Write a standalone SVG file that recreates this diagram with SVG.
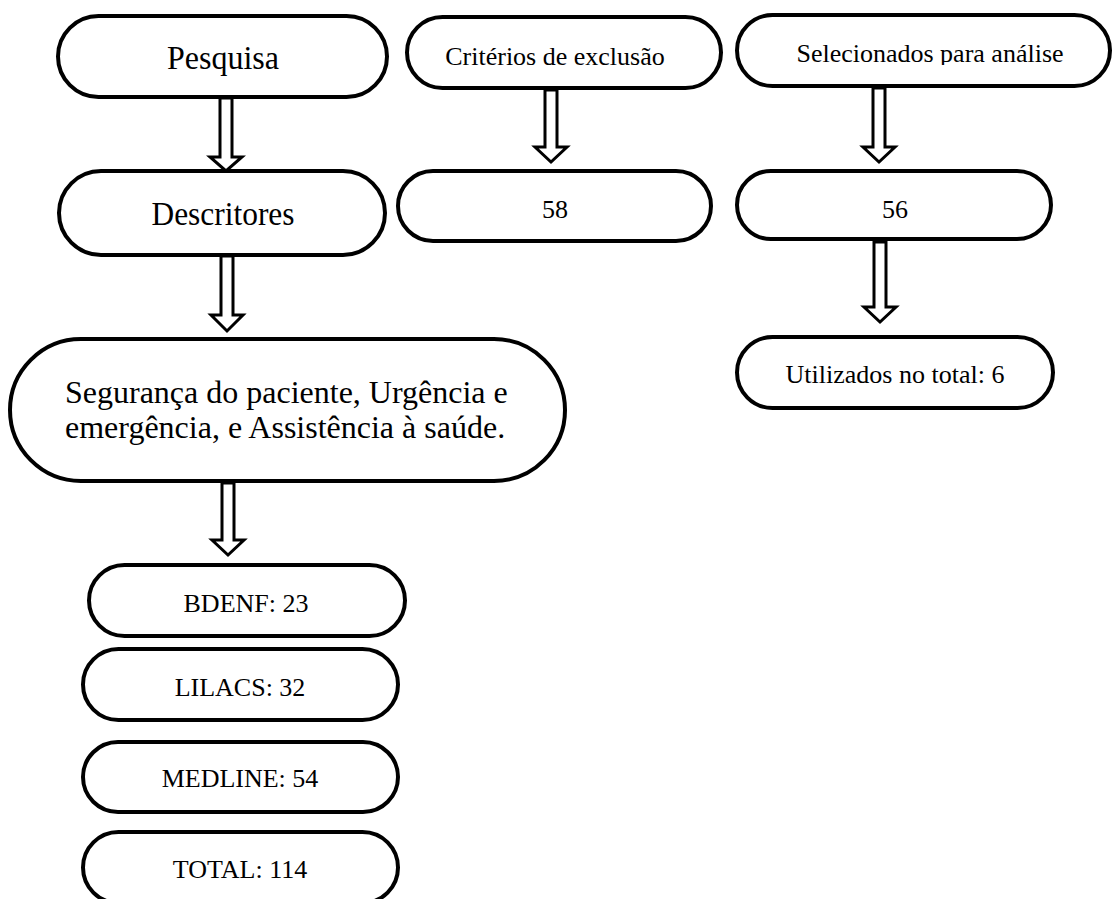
<svg xmlns="http://www.w3.org/2000/svg" width="1112" height="899" viewBox="0 0 1112 899">
<style>
.box{fill:#fff;stroke:#000;stroke-width:4}
.arr{fill:#fff;stroke:#000;stroke-width:3;stroke-linejoin:miter}
.t{font-family:"Liberation Serif","Times New Roman",serif;fill:#000;text-anchor:middle}
.big{font-size:33px}
.sm{font-size:26px}
</style>
<defs>
<clipPath id="clipSel"><rect x="730" y="0" width="382" height="65"/></clipPath>
</defs>
<rect width="1112" height="899" fill="#fff"/>
<g id="pesquisa"><rect class="box" x="58" y="16" width="329" height="81" rx="40.5"/><text class="t big" x="223" y="69" textLength="112" lengthAdjust="spacingAndGlyphs">Pesquisa</text></g>
<g id="criterios"><rect class="box" x="407" y="17" width="314" height="71" rx="35.5"/><text class="t sm" x="555" y="65">Critérios de exclusão</text></g>
<g id="selecionados"><rect class="box" x="737" y="15" width="373" height="71" rx="35.5"/><text class="t sm" x="930" y="62" clip-path="url(#clipSel)">Selecionados para análise</text></g>
<g id="descritores"><rect class="box" x="59" y="171" width="326" height="84" rx="42"/><text class="t big" x="223" y="225" textLength="143" lengthAdjust="spacingAndGlyphs">Descritores</text></g>
<g id="n58"><rect class="box" x="398" y="171" width="313" height="70" rx="35"/><text class="t sm" x="555" y="218">58</text></g>
<g id="n56"><rect class="box" x="737" y="171" width="314" height="68" rx="34"/><text class="t sm" x="895" y="218">56</text></g>
<g id="utilizados"><rect class="box" x="737" y="337" width="316" height="71" rx="35.5"/><text class="t sm" x="895" y="383">Utilizados no total: 6</text></g>
<g id="seguranca"><rect class="box" x="10" y="339" width="555" height="142" rx="71"/><text class="t" style="text-anchor:start;font-size:32px" x="65" y="403">Segurança do paciente, Urgência e</text><text class="t" style="text-anchor:start;font-size:32px" x="65" y="438">emergência, e Assistência à saúde.</text></g>
<g id="bdenf"><rect class="box" x="89" y="565" width="316" height="71" rx="35.5"/><text class="t sm" x="246" y="612">BDENF: 23</text></g>
<g id="lilacs"><rect class="box" x="83" y="649" width="315" height="71" rx="35.5"/><text class="t sm" x="240" y="696">LILACS: 32</text></g>
<g id="medline"><rect class="box" x="83" y="742" width="315" height="70" rx="35"/><text class="t sm" x="240" y="787">MEDLINE: 54</text></g>
<g id="total"><rect class="box" x="83" y="832" width="315" height="71" rx="35.5"/><text class="t sm" x="240" y="878">TOTAL: 114</text></g>
<g id="connectors">
<path class="arr" d="M220,98 L232,98 L232,157 L242,157 L226,171 L210,157 L220,157 Z"/>
<path class="arr" d="M221,256 L233,256 L233,315 L243,315 L227,331 L211,315 L221,315 Z"/>
<path class="arr" d="M222,483 L234,483 L234,540 L244,540 L228,555 L212,540 L222,540 Z"/>
<path class="arr" d="M545,90 L557,90 L557,147 L567,147 L551,162 L535,147 L545,147 Z"/>
<path class="arr" d="M873,88 L885,88 L885,147 L895,147 L879,162 L863,147 L873,147 Z"/>
<path class="arr" d="M874,242 L886,242 L886,307 L896,307 L880,322 L864,307 L874,307 Z"/>
</g>
</svg>
